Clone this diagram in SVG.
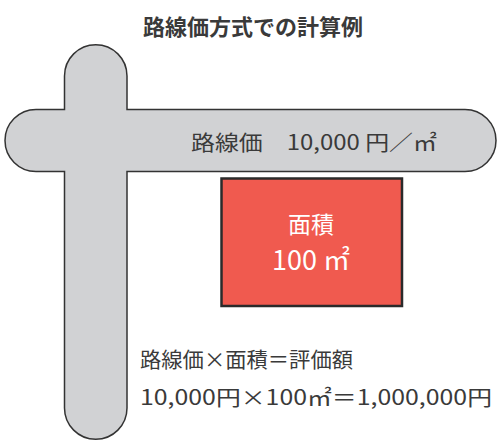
<svg xmlns="http://www.w3.org/2000/svg" width="497" height="441" viewBox="0 0 497 441">
<style>
.t{font-family:"Noto Sans CJK JP","Noto Sans",sans-serif;fill:#3a3a3a}
.w{font-family:"Noto Sans CJK JP","Noto Sans",sans-serif;fill:#ffffff;text-anchor:middle}
</style>
<rect width="497" height="441" fill="#ffffff"/>
<text class="t" x="253" y="35" font-size="22" font-weight="bold" text-anchor="middle" fill="#333">路線価方式での計算例</text>
<g id="road">
<path d="M64.5,76 A31.25,31.25 0 0 1 127,76 L127,109.5 L465,109.5 A31,31 0 0 1 465,171.5 L127,171.5 L127,408 A31.25,31.25 0 0 1 64.5,408 L64.5,171.5 L36,171.5 A31,31 0 0 1 36,109.5 L64.5,109.5 Z" fill="#d1d2d4" stroke="#333333" stroke-width="1.5"/>
<text class="t" x="191" y="150" font-size="21" textLength="246" lengthAdjust="spacingAndGlyphs">路線価　10,000 円／㎡</text>
</g>
<g id="lot">
<rect x="221.5" y="178.5" width="180.5" height="127.5" fill="#f05a4f" stroke="#2a2a2a" stroke-width="2.5"/>
<text class="w" x="311" y="233" font-size="23">面積</text>
<text class="w" x="311" y="270" font-size="27">100 ㎡</text>
</g>
<g id="formula">
<text class="t" x="140" y="367" font-size="21" textLength="213" lengthAdjust="spacingAndGlyphs">路線価×面積＝評価額</text>
<text class="t" x="140" y="405" font-size="21" textLength="352" lengthAdjust="spacingAndGlyphs">10,000円×100㎡＝1,000,000円</text>
</g>
</svg>
